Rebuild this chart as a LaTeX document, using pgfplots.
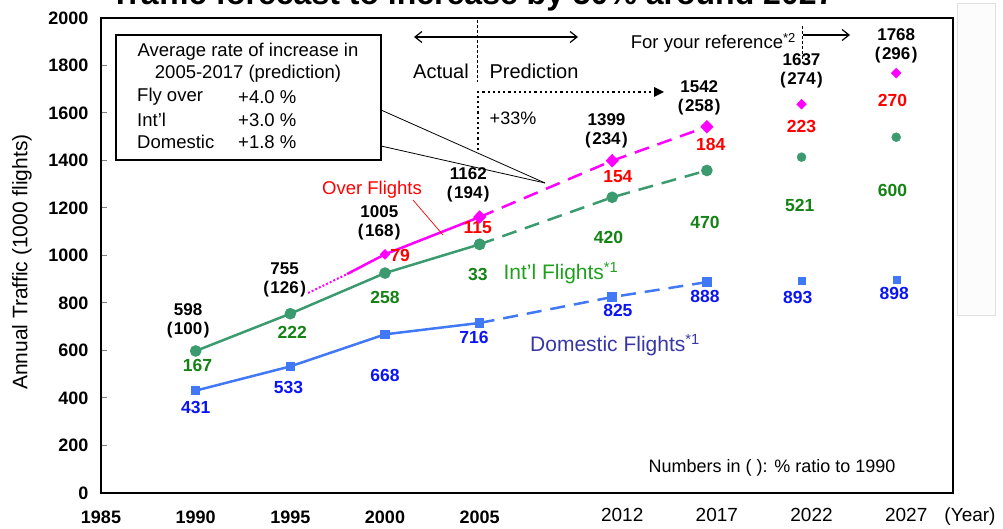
\documentclass[border=0pt]{standalone}
\usepackage{pgfplots}
\pgfplotsset{compat=1.18}
\usepackage{fontspec}
\setmainfont{Liberation Sans}
\usetikzlibrary{arrows.meta}
\definecolor{mag}{RGB}{255,0,255}
\definecolor{grn}{RGB}{60,155,110}
\definecolor{blu}{RGB}{65,120,245}
\definecolor{lred}{RGB}{255,0,0}
\definecolor{lgrn}{RGB}{20,130,20}
\definecolor{lblu}{RGB}{10,20,245}
\definecolor{intltxt}{RGB}{30,160,30}
\definecolor{domtxt}{RGB}{55,55,165}
\newcommand{\pp}[1]{(\kern1.5pt#1\kern1.5pt)}
\begin{document}
\begin{tikzpicture}
% cut title at top
\node[anchor=base east, font=\bfseries\fontsize{32}{36}\selectfont] at (838pt,524pt) {Traffic forecast to increase by 50\% around 2027};
% gray side box
\draw[draw=black!12, fill=black!1, line width=0.8pt] (957pt,526pt) rectangle (995pt,214pt);
\begin{axis}[
  at={(101pt,36pt)}, anchor=south west, scale only axis,
  width=852pt, height=475pt,
  xmin=1985, xmax=2030, ymin=0, ymax=2000,
  axis line style={line width=1.5pt},
  tick pos=left, tick align=inside, major tick length=6pt,
  ytick={0,200,...,2000},
  ytick style={line width=1pt},
  /pgf/number format/1000 sep={},
  /pgf/number format/assume math mode=true,
  yticklabel style={font=\bfseries\fontsize{18}{20}\selectfont, xshift=-9pt},
  xtick={1985,1990,1995,2000,2005},
  xticklabels={1985,1990,1995,2000,2005},
  xtick style={draw=none},
  xticklabel style={font=\bfseries\fontsize{18}{20}\selectfont, yshift=-14pt},
  extra x ticks={2012,2017,2022,2027},
  extra x tick labels={2012,2017,2022,2027},
  extra x tick style={tick style={draw=none}, xticklabel style={font=\fontsize{19}{20}\selectfont, xshift=10pt, yshift=2pt}},
  ylabel={Annual Traffic (1000 flights)},
  ylabel style={font=\fontsize{21}{24}\selectfont, at={(axis description cs:-0.0927,0.486)}, anchor=center},
  clip=false,
]
% Domestic
\addplot[blu, line width=2.5pt, mark=square*, mark size=3.5pt, mark options={solid}] coordinates {(1990,431) (1995,533) (2000,668) (2005,716)};
\addplot[blu, line width=2.5pt, dash pattern=on 15pt off 9pt, mark=square*, mark size=3.5pt, mark options={solid}] coordinates {(2005,716) (2012,825) (2017,888)};
\addplot[blu, only marks, mark=square*, mark size=3.5pt] coordinates {(2022,893) (2027,898)};
% International + domestic
\addplot[grn, line width=2.5pt, mark=*, mark size=4.5pt, mark options={solid}] coordinates {(1990,598) (1995,755) (2000,926) (2005,1047)};
\addplot[grn, line width=2.5pt, dash pattern=on 15pt off 9pt, mark=*, mark size=4.5pt, mark options={solid}] coordinates {(2005,1047) (2012,1245) (2017,1358)};
\addplot[grn, only marks, mark=*, mark size=4.5pt] coordinates {(2022,1414) (2027,1498)};
% Total (over flights on top)
\addplot[mag, line width=2pt, dash pattern=on 2pt off 2pt] coordinates {(1995.94,842) (1998.0,922)};
\addplot[mag, line width=2.5pt] coordinates {(1998.0,922) (2000,1005) (2005,1162)};
\addplot[mag, only marks, mark=diamond*, mark size=5pt, mark options={xscale=1.3}] coordinates {(2000,1005) (2005,1162)};
\addplot[mag, line width=2.5pt, dash pattern=on 15pt off 9pt, mark=diamond*, mark size=5pt, mark options={solid,xscale=1.3}] coordinates {(2005,1162) (2012,1399) (2017,1542)};
\addplot[mag, only marks, mark=diamond*, mark size=5pt, mark options={xscale=1.3}] coordinates {(2022,1637) (2027,1768)};

% totals
\begin{scope}[every node/.style={font=\bfseries\fontsize{17}{19.5}\selectfont, align=center, inner sep=0pt}]
\node at (axis cs:1989.6,724) {598\\\pp{100}};
\node at (axis cs:1994.7,897) {755\\\pp{126}};
\node at (axis cs:1999.7,1137) {1005\\\pp{168}};
\node at (axis cs:2004.4,1297) {1162\\\pp{194}};
\node at (axis cs:2011.7,1524) {1399\\\pp{234}};
\node at (axis cs:2016.6,1663) {1542\\\pp{258}};
\node at (axis cs:2022.0,1777) {1637\\\pp{274}};
\node at (axis cs:2027.0,1882) {1768\\\pp{296}};
\end{scope}
\begin{scope}[every node/.style={font=\bfseries\fontsize{17.5}{20}\selectfont, inner sep=0pt}]
\node[lred] at (axis cs:2000.8,998) {79};
\node[lred] at (axis cs:2004.9,1116) {115};
\node[lred] at (axis cs:2012.3,1331) {154};
\node[lred] at (axis cs:2017.2,1469) {184};
\node[lred] at (axis cs:2022.0,1545) {223};
\node[lred] at (axis cs:2026.8,1651) {270};
\node[lgrn] at (axis cs:1990.1,539) {167};
\node[lgrn] at (axis cs:1995.1,678) {222};
\node[lgrn] at (axis cs:2000.0,825) {258};
\node[lgrn] at (axis cs:2004.9,920) {33};
\node[lgrn] at (axis cs:2011.8,1074) {420};
\node[lgrn] at (axis cs:2016.9,1141) {470};
\node[lgrn] at (axis cs:2021.9,1209) {521};
\node[lgrn] at (axis cs:2026.8,1272) {600};
\node[lblu] at (axis cs:1990.0,362) {431};
\node[lblu] at (axis cs:1994.9,446) {533};
\node[lblu] at (axis cs:2000.0,493) {668};
\node[lblu] at (axis cs:2004.7,653) {716};
\node[lblu] at (axis cs:2012.3,770) {825};
\node[lblu] at (axis cs:2016.9,829) {888};
\node[lblu] at (axis cs:2021.8,825) {893};
\node[lblu] at (axis cs:2026.9,838) {898};
\end{scope}
\end{axis}

% callout box
\draw[line width=0.8pt] (381pt,419pt) -- (545pt,346pt);
\draw[line width=0.8pt] (381pt,383pt) -- (545pt,346pt);
\draw[line width=1.2pt, fill=white] (116pt,494pt) rectangle (381pt,369pt);
\begin{scope}[every node/.style={font=\fontsize{18.5}{20}\selectfont, inner sep=0pt}]
\node at (248pt,477pt) {Average rate of increase in};
\node at (248pt,455pt) {2005-2017 (prediction)};
\node[anchor=west] at (137pt,432pt) {Fly over};
\node[anchor=west] at (238pt,432pt) {+4.0 \%};
\node[anchor=west] at (137pt,409pt) {Int’l};
\node[anchor=west] at (238pt,409pt) {+3.0 \%};
\node[anchor=west] at (137pt,387pt) {Domestic};
\node[anchor=west] at (238pt,387pt) {+1.8 \%};
\end{scope}
% actual / prediction
\draw[line width=1.2pt, {Straight Barb[length=7pt,width=11pt]}-{Straight Barb[length=7pt,width=11pt]}] (414pt,492pt) -- (578pt,492pt);
\draw[line width=0.9pt, dash pattern=on 3pt off 2pt] (477pt,509pt) -- (477pt,447pt);
\node[font=\fontsize{20}{22}\selectfont] at (441pt,458pt) {Actual};
\node[font=\fontsize{20}{22}\selectfont] at (534pt,458pt) {Prediction};
\draw[line width=2.2pt, dash pattern=on 2.2pt off 3pt] (478pt,379pt) -- (478pt,437pt) -- (655pt,437pt);
\fill (664pt,437pt) -- (654pt,442pt) -- (654pt,432pt) -- cycle;
\node[font=\fontsize{18}{20}\selectfont] at (513pt,411pt) {+33\%};
% reference
\node[font=\fontsize{18.5}{20}\selectfont, anchor=east, inner sep=0pt] at (796pt,486pt) {For your reference\textsuperscript{*2}};
\draw[line width=0.9pt, dash pattern=on 3pt off 2pt] (802pt,503pt) -- (802pt,469pt);
\draw[line width=1.2pt, -{Straight Barb[length=7pt,width=11pt]}] (803pt,494pt) -- (850pt,494pt);
% series labels
\node[lred, font=\fontsize{18.5}{20}\selectfont] at (372pt,339pt) {Over Flights};
\draw[lred, line width=0.7pt] (413pt,329pt) -- (443pt,294pt);
\node[intltxt, font=\fontsize{21}{24}\selectfont] at (561pt,256pt) {Int’l Flights\textsuperscript{*1}};
\node[domtxt, font=\fontsize{21}{24}\selectfont] at (615pt,184pt) {Domestic Flights\textsuperscript{*1}};
\node[font=\fontsize{18}{20}\selectfont] at (772pt,61pt) {Numbers in ( ): \% ratio to 1990};
\node[font=\fontsize{19}{20}\selectfont] at (970pt,12pt) {(Year)};
\pgfresetboundingbox
\path[use as bounding box] (0pt,0pt) rectangle (1003pt,529pt);
\end{tikzpicture}
\end{document}
